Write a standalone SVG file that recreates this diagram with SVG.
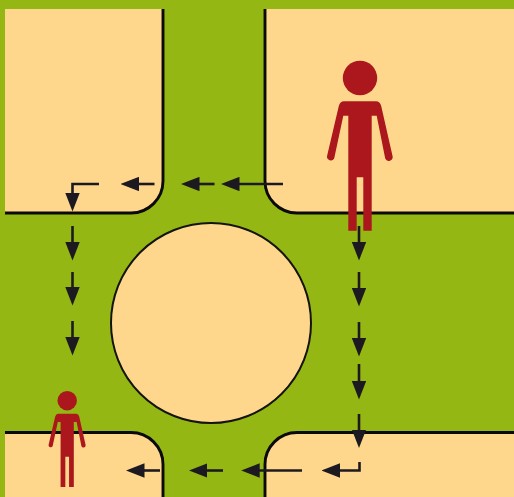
<svg xmlns="http://www.w3.org/2000/svg" width="514" height="497" viewBox="0 0 514 497">
<style>
.block{fill:#ffd78c;stroke:none}
.kerb{fill:none;stroke:#0a0a0a;stroke-width:2.9}
.person{fill:#ab171c}
.arrow{fill:none;stroke:#1c1a20;stroke-width:2.6;marker-end:url(#head)}
</style>
<defs>
<marker id="head" markerUnits="userSpaceOnUse" markerWidth="18.500" markerHeight="14.400" refX="8" refY="7.200" orient="auto" viewBox="0 0 18.500 14.400">
<path d="M0,0L18.500,7.200L0,14.400z" fill="#1c1a20"/>
</marker>
<g id="figure">
<circle cx="0" cy="0" r="17.2"/>
<path d="M-16,23.3H16Q20,23.3 21.2,28L32.6,78.3A3.9,3.9 0 0 1 25.2,80.6L16.7,37.7H11.7V152.7H3.3V99.3H-3.3V152.7H-11.7V37.7H-16.7L-25.8,80.6A3.9,3.9 0 0 1 -33,78.3L-21.2,28Q-20,23.3 -16,23.3Z"/>
</g>
</defs>
<rect id="ground" width="514" height="497" fill="#95b714"/>
<g id="block-nw">
<path class="block" d="M5,9H163V181A32,32 0 0 1 131,213H5Z"/>
<path class="kerb" d="M163,9V181A32,32 0 0 1 131,213H5"/>
</g>
<g id="block-ne">
<path class="block" d="M514,9H265V181A32,32 0 0 0 297,213H514Z"/>
<path class="kerb" d="M265,9V181A32,32 0 0 0 297,213H514"/>
</g>
<g id="block-sw">
<path class="block" d="M5,497V432.500H131A32,32 0 0 1 163,464.500V497Z"/>
<path class="kerb" d="M5,432.500H131A32,32 0 0 1 163,464.500V497"/>
</g>
<g id="block-se">
<path class="block" d="M514,497V432.500H297A32,32 0 0 0 265,464.500V497Z"/>
<path class="kerb" d="M514,432.500H297A32,32 0 0 0 265,464.500V497"/>
</g>
<g id="island"><circle cx="211" cy="323" r="100" fill="#ffd78c" stroke="#14140f" stroke-width="2"/></g>
<g id="person-large" class="person"><use href="#figure" transform="translate(360,78)"/></g>
<g id="person-small" class="person"><use href="#figure" transform="translate(67.200,400.700) scale(.565)"/></g>
<g id="connectors">
<path class="arrow" d="M99,184H72.500V201"/>
<path class="arrow" d="M154.500,184H131"/>
<path class="arrow" d="M214.500,184H191.500"/>
<path class="arrow" d="M283,184H231.500"/>
<path class="arrow" d="M72.500,226V250"/>
<path class="arrow" d="M72.500,272V295"/>
<path class="arrow" d="M72.500,321V345"/>
<path class="arrow" d="M359,226V250"/>
<path class="arrow" d="M359,272V296"/>
<path class="arrow" d="M359,322V346"/>
<path class="arrow" d="M359,364V389"/>
<path class="arrow" d="M359,414V437.500"/>
<path class="arrow" d="M359.500,462V470.500H332"/>
<path class="arrow" d="M302,470.500H251.700"/>
<path class="arrow" d="M223,470.500H199.300"/>
<path class="arrow" d="M160,470.500H136.500"/>
</g>
</svg>
